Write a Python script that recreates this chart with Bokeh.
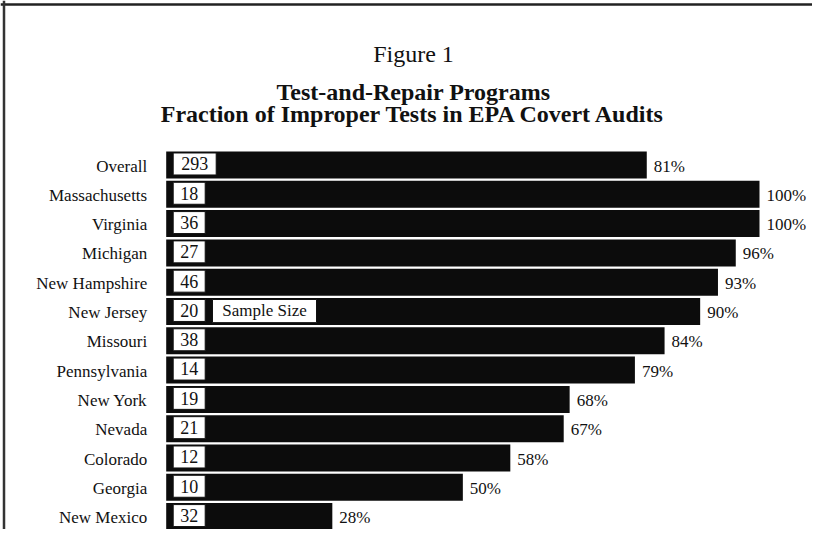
from bokeh.plotting import figure
from bokeh.models import Range1d, ColumnDataSource, Span
from bokeh.core.properties import value
from bokeh.embed import file_html
from bokeh.resources import INLINE

# ---- data ----
states = ["Overall", "Massachusetts", "Virginia", "Michigan", "New Hampshire",
          "New Jersey", "Missouri", "Pennsylvania", "New York", "Nevada",
          "Colorado", "Georgia", "New Mexico"]
pct = [81, 100, 100, 96, 93, 90, 84, 79, 68, 67, 58, 50, 28]
sample = [293, 18, 36, 27, 46, 20, 38, 14, 19, 21, 12, 10, 32]
title_lines = ["Figure 1", "Test-and-Repair Programs",
               "Fraction of Improper Tests in EPA Covert Audits"]
key_label = "Sample Size"
key_row = "New Jersey"

# ---- layout constants (canvas pixels) ----
W, H = 812, 529
X0_PX = 165.7        # canvas x of 0%
PX_PER_PCT = 5.933
ROW_PX = 29.3
TOP_ROW_PX = 164.5   # canvas y of first row centre

x_start = -X0_PX / PX_PER_PCT
x_end = (W - X0_PX) / PX_PER_PCT
y_end = TOP_ROW_PX / ROW_PX
y_start = y_end - H / ROW_PX


def xpx(px):
    return (px - X0_PX) / PX_PER_PCT


def ypx(py):
    return y_end - py / ROW_PX


FONT = value("Liberation Serif")

ys = [-i for i in range(len(states))]
box_left = xpx(172.7)
box_right = [box_left + (10 + 11 * len(str(s))) / PX_PER_PCT for s in sample]
src = ColumnDataSource(dict(
    y=ys, pct=pct, state=states,
    plabel=[f"{v}%" for v in pct],
    slabel=[str(s) for s in sample],
    bl=[box_left] * len(states), br=box_right,
    bc=[(box_left + r) / 2 for r in box_right],
    bt=[y + 0.41 for y in ys], bb=[y - 0.34 for y in ys],
    ty=[y + 0.04 for y in ys],
))

p = figure(width=W, height=H, output_backend="svg", toolbar_location=None,
           x_range=Range1d(x_start, x_end), y_range=Range1d(y_start, y_end),
           x_axis_type=None, y_axis_type=None, min_border=0,
           outline_line_color=None)
p.grid.visible = False
p.background_fill_color = "white"
p.border_fill_color = "white"

# bars
p.hbar(y="y", left=0, right="pct", height=0.92, source=src,
       fill_color="#0c0c0c", line_color=None)

# sample-size boxes
p.quad(left="bl", right="br", top="bt", bottom="bb", source=src,
       fill_color="white", line_color="#111111", line_width=1)
p.text(x="bc", y="ty", text="slabel", source=src, text_font=FONT,
       text_font_size="18px", text_align="center", text_baseline="middle",
       text_color="#111111")

# key box
ki = states.index(key_row)
ky = ys[ki]
p.quad(left=[xpx(212)], right=[xpx(316)], top=[ky + 0.41], bottom=[ky - 0.38],
       fill_color="white", line_color="#111111", line_width=1)
p.text(x=[(xpx(212) + xpx(316)) / 2], y=[ky + 0.03], text=[key_label],
       text_font=FONT, text_font_size="17px", text_align="center",
       text_baseline="middle", text_color="#111111")

# percent labels
p.text(x="pct", y="y", text="plabel", source=src, x_offset=7, y_offset=1,
       text_font=FONT, text_font_size="17px", text_align="left",
       text_baseline="middle", text_color="#111111")

# row labels
p.text(x=0, y="y", text="state", source=src, x_offset=-19, y_offset=1,
       text_font=FONT, text_font_size="17px", text_align="right",
       text_baseline="middle", text_color="#111111")

# titles
cx = xpx(413)
title_base_px = [53.3, 91.7, 113.5]
title_style = ["normal", "bold", "bold"]
for t, b, s in zip(title_lines, title_base_px, title_style):
    p.text(x=[cx], y=[ypx(b)], text=[t], text_font=FONT,
           text_font_size="24px", text_font_style=s, text_align="center",
           text_baseline="alphabetic", text_color="#111111")

# page frame (top and left rules)
p.add_layout(Span(location=ypx(4), dimension="width", line_color="#222222",
                  line_width=2.5))
p.add_layout(Span(location=xpx(3.5), dimension="height", line_color="#333333",
                  line_width=2.5))

open("out.html", "w").write(file_html(p, INLINE))
